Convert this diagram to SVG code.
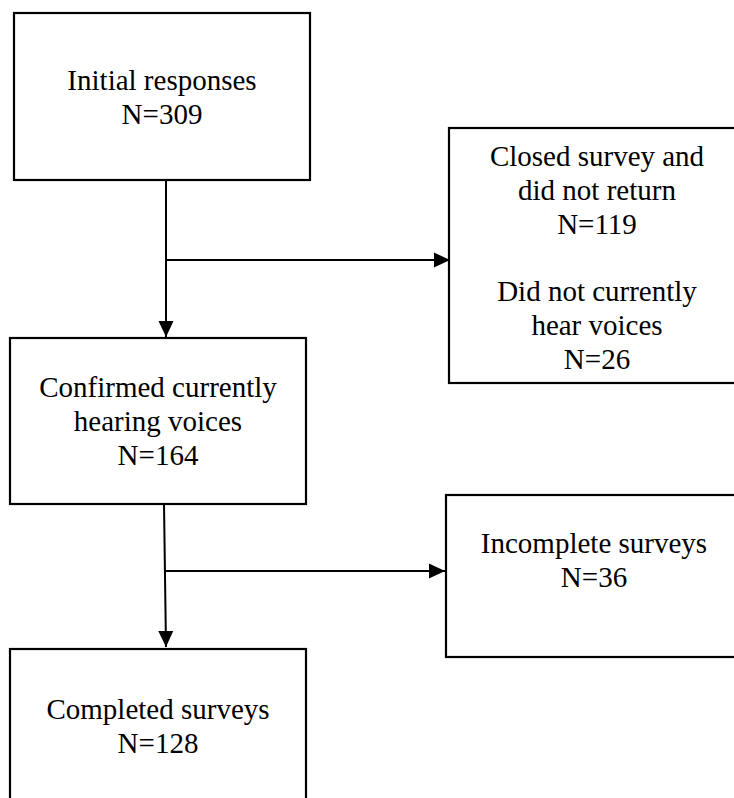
<svg xmlns="http://www.w3.org/2000/svg" width="734" height="798" viewBox="0 0 734 798">
  <style>
    .box { fill: #fff; stroke: #000; stroke-width: 2.2; }
    .t { font-family: "Liberation Serif", "Times New Roman", serif; font-size: 29px; fill: #000; text-anchor: middle; }
    .c { fill: none; stroke: #000; stroke-width: 2; }
  </style>
  <defs>
    <marker id="arr" markerUnits="userSpaceOnUse" markerWidth="17" markerHeight="17" viewBox="0 0 17 17" refX="16" refY="8.5" orient="auto">
      <polygon points="0,1 16,8.5 0,16" fill="#000"/>
    </marker>
  </defs>
  <rect width="734" height="798" fill="#fff"/>

  <g id="n1">
    <rect class="box" x="14" y="13" width="296" height="167"/>
    <text class="t" x="162" y="90">Initial responses</text>
    <text class="t" x="162" y="124">N=309</text>
  </g>
  <g id="n2">
    <rect class="box" x="10" y="338" width="296" height="166"/>
    <text class="t" x="158" y="397">Confirmed currently</text>
    <text class="t" x="158" y="431">hearing voices</text>
    <text class="t" x="158" y="465">N=164</text>
  </g>
  <g id="n3">
    <rect class="box" x="449" y="128" width="296" height="255"/>
    <text class="t" x="597" y="166">Closed survey and</text>
    <text class="t" x="597" y="200">did not return</text>
    <text class="t" x="597" y="234">N=119</text>
    <text class="t" x="597" y="301">Did not currently</text>
    <text class="t" x="597" y="335">hear voices</text>
    <text class="t" x="597" y="369">N=26</text>
  </g>
  <g id="n4">
    <rect class="box" x="10" y="649" width="296" height="170"/>
    <text class="t" x="158" y="719">Completed surveys</text>
    <text class="t" x="158" y="753">N=128</text>
  </g>
  <g id="n5">
    <rect class="box" x="446" y="495" width="296" height="162"/>
    <text class="t" x="594" y="553">Incomplete surveys</text>
    <text class="t" x="594" y="587">N=36</text>
  </g>

  <g id="connectors">
    <path class="c" d="M166,180 V337" marker-end="url(#arr)"/>
    <path class="c" d="M166,260 H450" marker-end="url(#arr)"/>
    <path class="c" d="M164,504 L166,647" marker-end="url(#arr)"/>
    <path class="c" d="M165,571 H445" marker-end="url(#arr)"/>
  </g>
</svg>
